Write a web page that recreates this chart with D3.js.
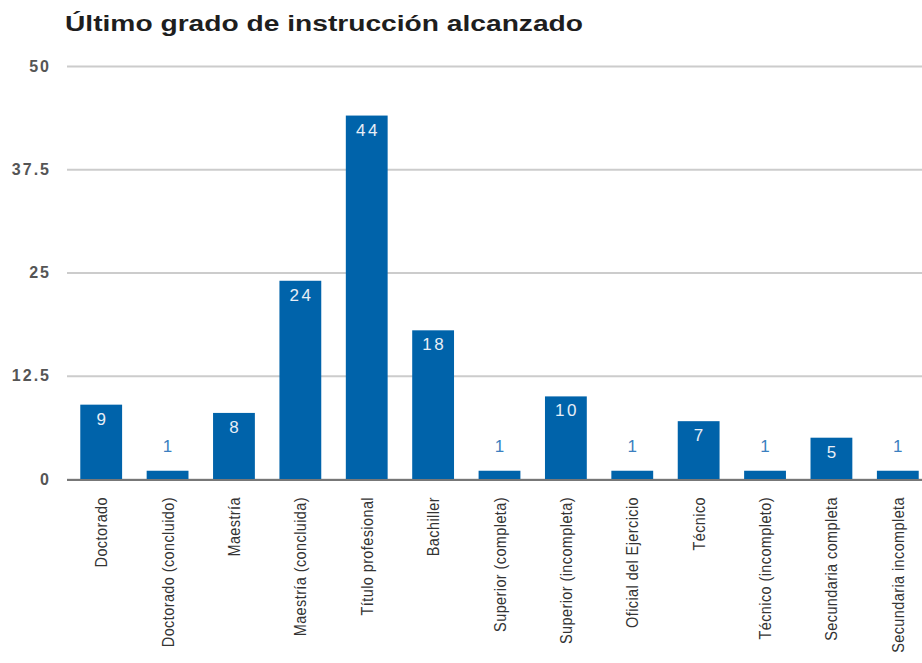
<!DOCTYPE html>
<html>
<head>
<meta charset="utf-8">
<script src="https://cdn.jsdelivr.net/npm/d3@7"></script>
<style>
  body { margin: 0; background: #fff; }
  text { font-family: "Liberation Sans", Arial, sans-serif; }
</style>
</head>
<body>
<div id="chart"></div>
<script>
const categories = ["Doctorado", "Doctorado (concluido)", "Maestría", "Maestría (concluida)",
  "Título profesional", "Bachiller", "Superior (completa)", "Superior (incompleta)",
  "Oficial del Ejercicio", "Técnico", "Técnico (incompleto)", "Secundaria completa",
  "Secundaria incompleta"];
const values = [9, 1, 8, 24, 44, 18, 1, 10, 1, 7, 1, 5, 1];
const yTicks = [0, 12.5, 25, 37.5, 50];
const title = "Último grado de instrucción alcanzado";

const width = 922, height = 663;
const svg = d3.select('#chart')
  .append('svg')
  .attr('width', width)
  .attr('height', height);

const x = d3.scaleBand()
  .domain(categories)
  .range([68, 931])
  .paddingInner(0.37)
  .paddingOuter(0.185);

const y = d3.scaleLinear()
  .domain([0, 50])
  .range([479, 66]);

svg.append('text')
  .attr('x', 65)
  .attr('y', 31)
  .attr('font-size', 22)
  .attr('font-weight', 'bold')
  .attr('fill', '#1e1e1e')
  .attr('textLength', 518)
  .attr('lengthAdjust', 'spacingAndGlyphs')
  .text(title);

// grid
const yAxis = d3.axisLeft(y)
  .tickValues(yTicks)
  .tickSize(-(width - 67))
  .tickFormat(d => String(d));

const gy = svg.append('g')
  .attr('transform', 'translate(67,0)')
  .call(yAxis);
gy.select('.domain').remove();
gy.selectAll('.tick line').attr('stroke', '#ccc').attr('stroke-width', 2);
gy.selectAll('.tick text')
  .attr('x', -16)
  .attr('font-size', 16)
  .attr('font-weight', 'bold')
  .attr('letter-spacing', 2)
  .attr('fill', '#555');

svg.selectAll('rect.bar')
  .data(values)
  .enter()
  .append('rect')
  .attr('class', 'bar')
  .attr('x', (d, i) => x(categories[i]))
  .attr('y', d => y(d))
  .attr('width', x.bandwidth())
  .attr('height', d => y(0) - y(d))
  .attr('fill', '#0063aa');

// baseline
svg.append('line')
  .attr('x1', 67).attr('x2', width)
  .attr('y1', y(0) + 1).attr('y2', y(0) + 1)
  .attr('stroke', '#777')
  .attr('stroke-width', 2);

svg.selectAll('text.val')
  .data(values)
  .enter()
  .append('text')
  .attr('class', 'val')
  .attr('x', (d, i) => x(categories[i]) + x.bandwidth() / 2 + 1.2)
  .attr('y', d => d > 2 ? y(d) + 20 : y(d) - 19)
  .attr('text-anchor', 'middle')
  .attr('font-size', 17)
  .attr('letter-spacing', 2.5)
  .attr('fill', d => d > 2 ? '#e8eef6' : '#3b7fc0')
  .text(d => d);

svg.selectAll('text.cat')
  .data(categories)
  .enter()
  .append('text')
  .attr('class', 'cat')
  .attr('transform', d => `translate(${x(d) + x.bandwidth() / 2 + 6},497) rotate(-90) scale(0.85,1)`)
  .attr('text-anchor', 'end')
  .attr('font-size', 17)
  .attr('letter-spacing', 0.5)
  .attr('fill', '#333')
  .text(d => d);
</script>
</body>
</html>
